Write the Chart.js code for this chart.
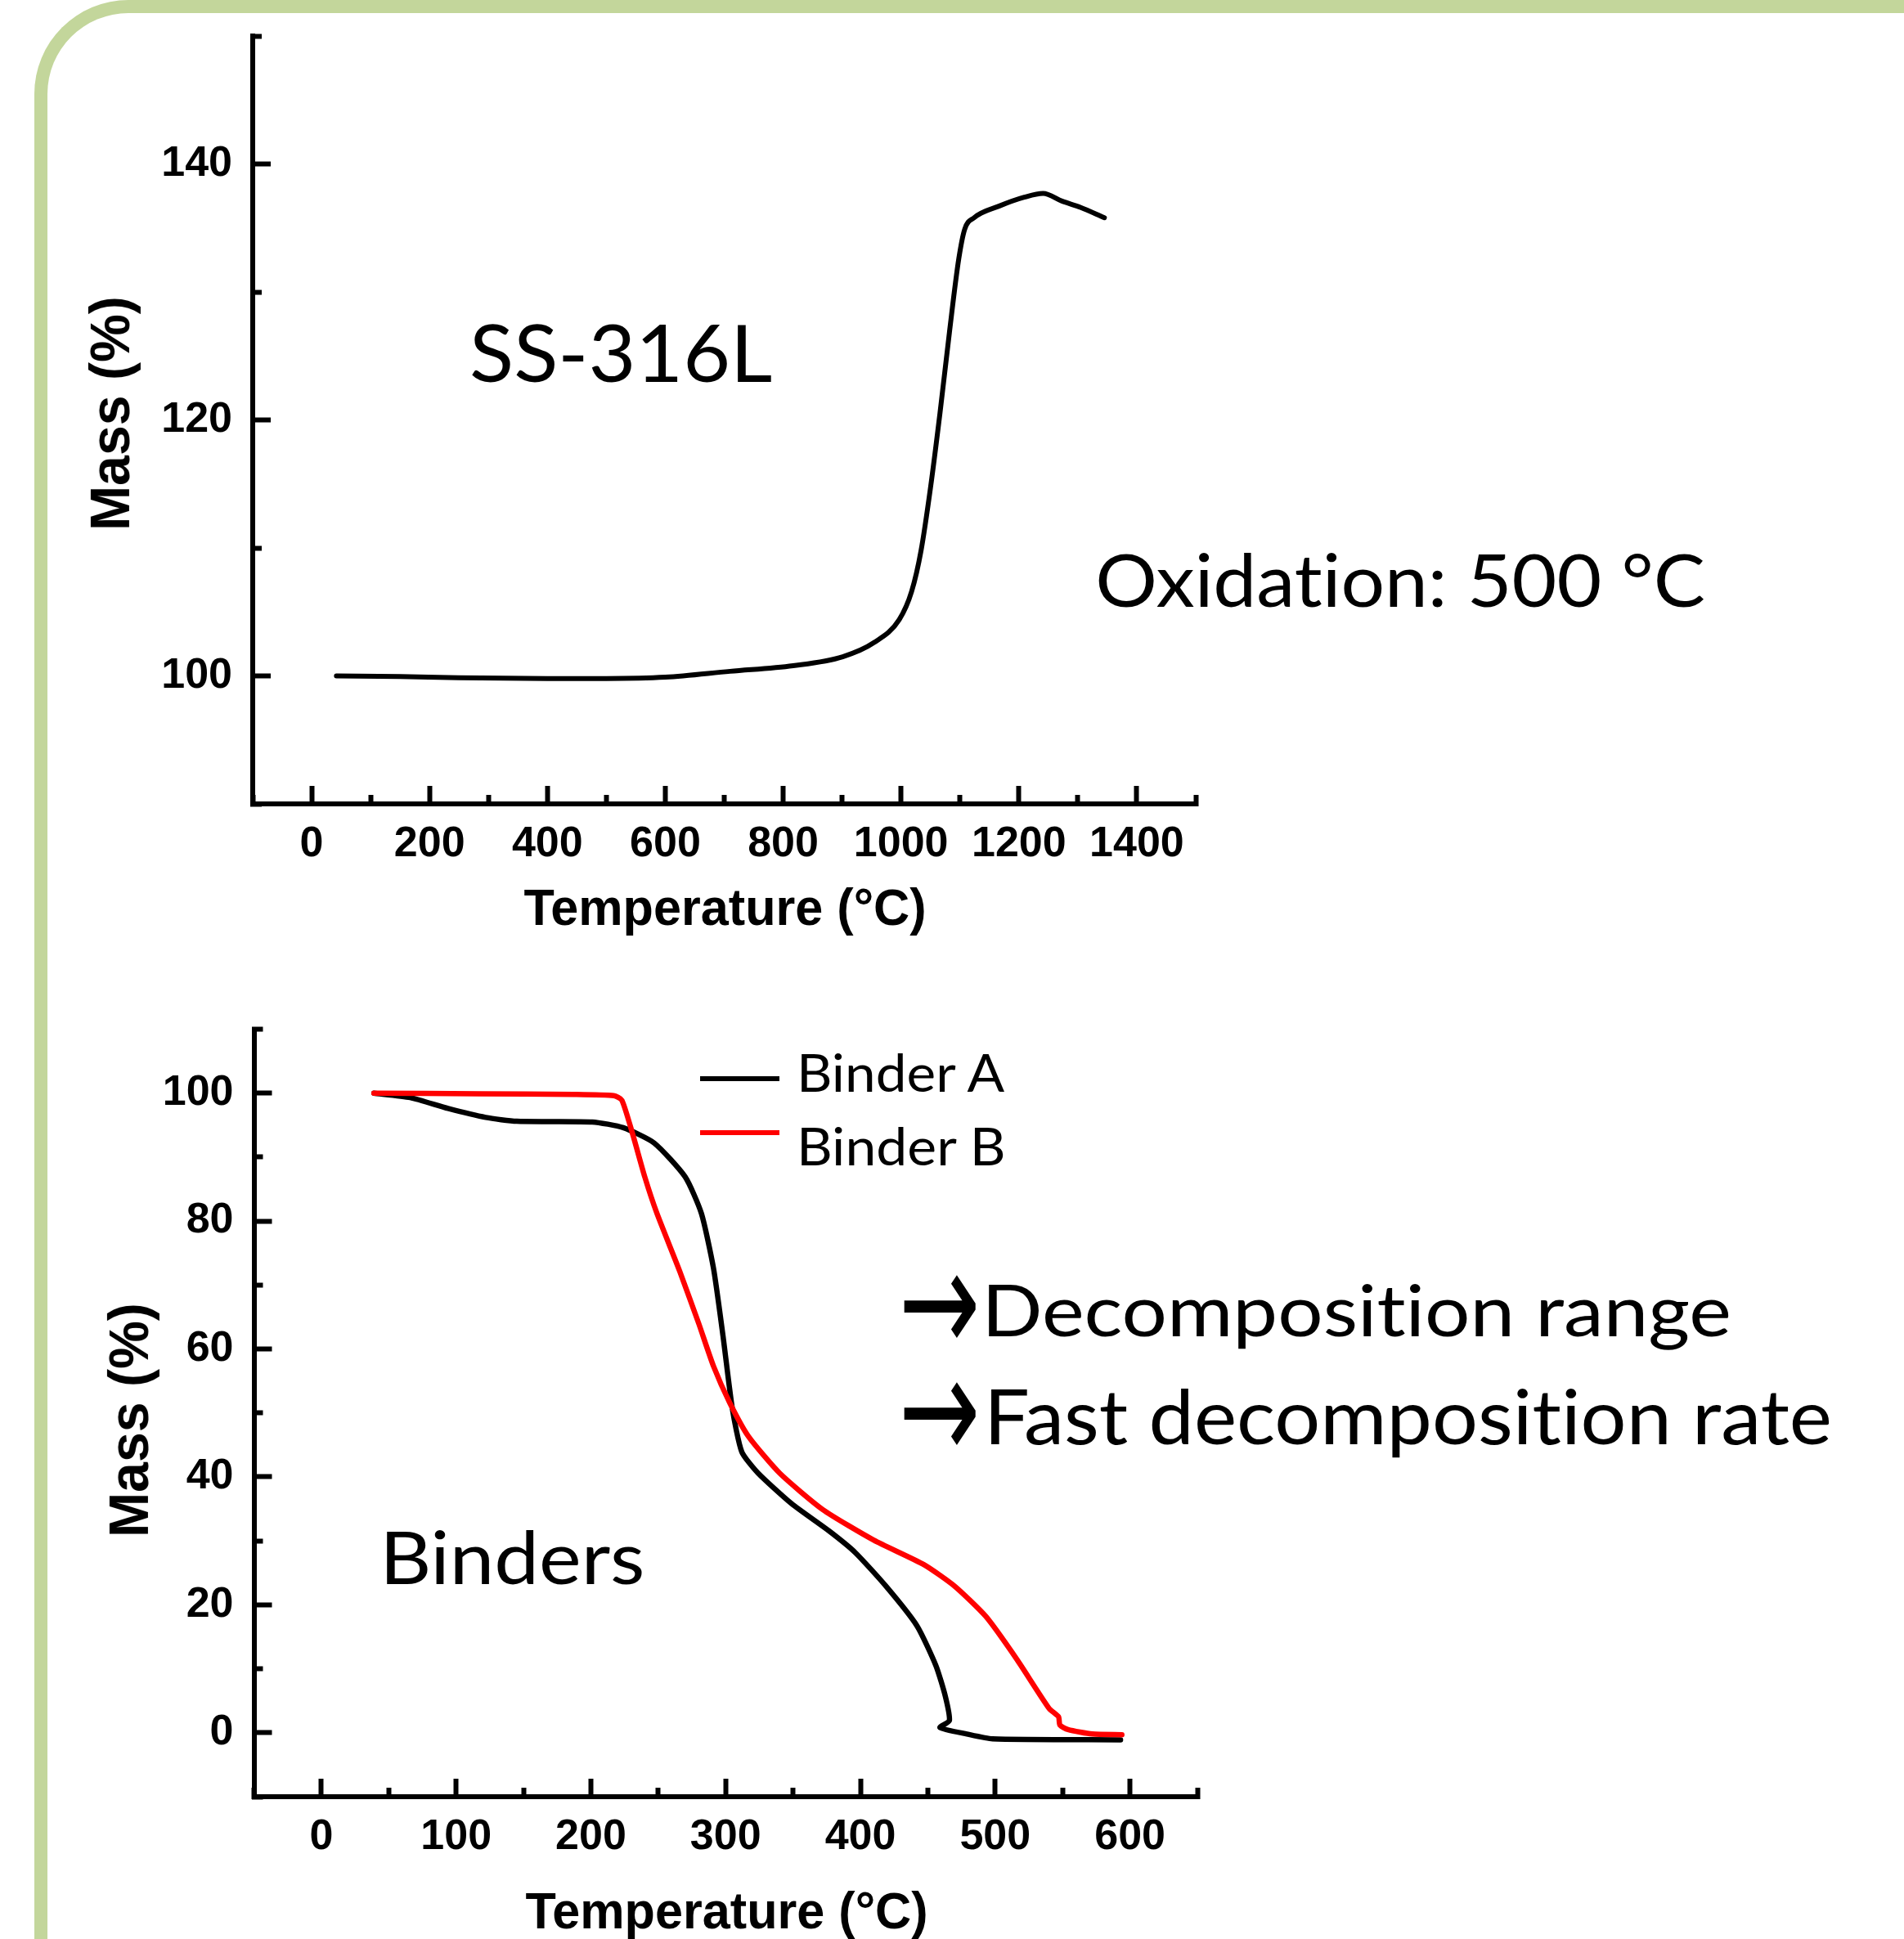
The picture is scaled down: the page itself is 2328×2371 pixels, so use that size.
<!DOCTYPE html>
<html>
<head>
<meta charset="utf-8">
<title>TGA – SS-316L and binders</title>
<script src="https://cdn.jsdelivr.net/npm/chart.js@4.4.1/dist/chart.umd.min.js"></script>
<style>
  html, body { margin: 0; padding: 0; background: #fff; }
  body { position: relative; width: 2328px; height: 2371px; overflow: hidden; }
  .frame { position: absolute; left: 42px; top: 0; width: 2400px; height: 2500px;
           border-top: 16px solid #C3D69B; border-left: 16px solid #C3D69B;
           border-top-left-radius: 115px; box-sizing: border-box; }
  .plot  { position: absolute; left: 0; }
  .lbl   { position: absolute; left: 0; top: 0; white-space: nowrap; color: #000;
           transform-origin: 0 0; }
  .probe { display: inline-block; width: 0; height: 0; }
  .key   { position: absolute; height: 6px; }
</style>
</head>
<body>
<div class="frame"></div>
<canvas id="ssChart" class="plot" width="1540" height="1190" style="top:0"></canvas>
<canvas id="binderChart" class="plot" width="1540" height="1171" style="top:1200px"></canvas>
<div class="key" style="left:856px;top:1316px;width:97px;background:#000"></div>
<div class="key" style="left:856px;top:1382px;width:97px;background:#FF0000"></div>

<script>
/* ---------- SS-316L oxidation curve (temperature °C / mass %) ---------- */
const ssTemp = [42, 150, 250, 400, 500, 600, 710, 817, 901, 954, 997, 1018, 1034, 1050,
                1066, 1082, 1098, 1108, 1124, 1166, 1209, 1241, 1273, 1305, 1345];
const ssMass = [100, 99.95, 99.85, 99.8, 99.8, 99.9, 100.36, 100.8, 101.5, 102.6, 104.4,
                106.6, 109.8, 114.7, 120.5, 126.8, 132.6, 134.9, 135.8, 136.7, 137.4,
                137.7, 137.1, 136.6, 135.8];

/* ---------- binder decomposition curves ---------- */
const binderATemp = [39, 66, 94, 122, 145, 201, 224, 247, 270, 282, 291, 298, 305, 312,
                     324, 349, 377, 396, 419, 442, 456, 463, 466, 459, 479, 498, 593];
const binderAMass = [100, 99.3, 97.6, 96.2, 95.6, 95.5, 94.6, 92.2, 86.9, 81.2, 72.6,
                     62.1, 50.6, 43.9, 40.6, 35.8, 31.5, 28.2, 22.9, 16.7, 10.5, 5.7,
                     1.9, 0.8, -0.2, -0.95, -1.1];
const binderBTemp = [39, 117, 187, 217, 223, 231, 240, 249, 266, 280, 291, 303, 317, 340,
                     372, 410, 447, 470, 493, 516, 540, 547, 548, 554, 572, 594];
const binderBMass = [100, 99.9, 99.8, 99.6, 98.9, 93.6, 86.9, 81.2, 72.1, 64, 57.3, 51.6,
                     46.3, 40.6, 34.9, 30.1, 26.3, 22.9, 18.2, 11.5, 3.8, 2.5, 1.2, 0.5,
                     -0.2, -0.3];

/* ---------- tick values (major = labelled) ---------- */
const ssXMajor = [0, 200, 400, 600, 800, 1000, 1200, 1400];
const ssXMinor = [-100, 100, 300, 500, 700, 900, 1100, 1300, 1500];
const ssYMajor = [100, 120, 140];
const ssYMinor = [90, 110, 130, 150];
const bdXMajor = [0, 100, 200, 300, 400, 500, 600];
const bdXMinor = [-50, 50, 150, 250, 350, 450, 550, 650];
const bdYMajor = [0, 20, 40, 60, 80, 100];
const bdYMinor = [-10, 10, 30, 50, 70, 90, 110];

/* ---------- shared axis look ---------- */
const TICK_FONT = { family: "'Liberation Sans', Arial, sans-serif", size: 52, weight: 'bold' };

const axis = (pos, min, max, major, minor, size) => {
  const isMinor = c => !major.includes(c.tick ? c.tick.value : NaN);
  return {
    type: 'linear', position: pos, min, max,
    afterBuildTicks: s => {
      s.ticks = [...major, ...minor].sort((a, b) => a - b).map(value => ({ value }));
    },
    afterFit: s => {
      if (pos === 'left') s.width = size; else s.height = size;
      // keep the plot box exactly where the layout padding puts it
      s.paddingTop = s.paddingBottom = s.paddingLeft = s.paddingRight = 0;
    },
    border: { display: true, color: '#000', width: 6 },
    grid: {
      drawOnChartArea: false, drawTicks: true,
      tickLength: -22, tickWidth: 6, tickColor: '#000',
      // inward ticks; minor ones cut short with a dash pattern
      tickBorderDash: c => isMinor(c) ? (pos === 'left' ? [14, 11] : [14, 100]) : [],
      tickBorderDashOffset: c => (isMinor(c) && pos === 'left') ? 14 : 0
    },
    ticks: {
      autoSkip: false, maxRotation: 0, minRotation: 0, color: '#000', font: TICK_FONT,
      padding: pos === 'left' ? 47 : 40,
      callback: v => major.includes(v) ? String(v) : ''
    }
  };
};

const xy = (xs, ys) => xs.map((x, i) => ({ x, y: ys[i] }));

const baseOpts = pad => ({
  responsive: false, animation: false, devicePixelRatio: 1,
  layout: { padding: pad },
  plugins: { legend: { display: false }, tooltip: { enabled: false } }
});

/* ---------- top: SS-316L ---------- */
new Chart(document.getElementById('ssChart'), {
  type: 'scatter',
  data: {
    datasets: [{
      data: xy(ssTemp, ssMass), showLine: true, borderColor: '#000', borderWidth: 6,
      pointRadius: 0, cubicInterpolationMode: 'monotone',
      borderJoinStyle: 'round', borderCapStyle: 'round'
    }]
  },
  options: {
    ...baseOpts({ left: 0, top: 44, right: 78, bottom: 0 }),
    scales: {
      x: axis('bottom', -100, 1500, ssXMajor, ssXMinor, 207),
      y: axis('left', 90, 150, ssYMajor, ssYMinor, 309)
    }
  }
});

/* ---------- bottom: binders ---------- */
new Chart(document.getElementById('binderChart'), {
  type: 'scatter',
  data: {
    datasets: [
      { label: 'Binder B', data: xy(binderBTemp, binderBMass), order: 0,
        showLine: true, borderColor: '#FF0000', borderWidth: 6.5, pointRadius: 0,
        tension: 0.2, borderJoinStyle: 'round', borderCapStyle: 'round' },
      { label: 'Binder A', data: xy(binderATemp, binderAMass), order: 1,
        showLine: true, borderColor: '#000', borderWidth: 6.5, pointRadius: 0,
        tension: 0.2, borderJoinStyle: 'round', borderCapStyle: 'round' }
    ]
  },
  options: {
    ...baseOpts({ left: 0, top: 58.5, right: 76, bottom: 0 }),
    scales: {
      x: axis('bottom', -50, 650, bdXMajor, bdXMinor, 174),
      y: axis('left', -10, 110, bdYMajor, bdYMinor, 310.5)
    }
  }
});

/* ---------- text: fitted onto the ink boxes of the original ---------- */
const mctx = document.createElement('canvas').getContext('2d');
const BODY = "Lato, 'Open Sans', sans-serif";
const BOLD = "bold 100px 'Liberation Sans', Arial, sans-serif";

function makeLabel (text, font) {
  mctx.font = font;
  const m = mctx.measureText(text);
  const el = document.createElement('div');
  el.className = 'lbl';
  el.style.font = font;
  el.style.fontVariantLigatures = 'none';
  el.textContent = text;
  const probe = document.createElement('span');
  probe.className = 'probe';
  el.appendChild(probe);
  document.body.appendChild(el);
  return { el, m, base: probe.offsetTop, cap: mctx.measureText('H').actualBoundingBoxAscent };
}

// left/right = ink edges, top = cap top, base = baseline
function place (text, font, { left, right, top, base }) {
  const { el, m, base: b0, cap } = makeLabel(text, font);
  const x1 = -m.actualBoundingBoxLeft, x2 = m.actualBoundingBoxRight;
  const sx = (right - left) / (x2 - x1), sy = (base - top) / cap;
  el.style.transform = `translate(${left - sx * x1}px, ${base - sy * b0}px) scale(${sx}, ${sy})`;
}

// arrow glyph fitted to its ink box
function placeGlyph (text, font, { left, right, top, bottom }) {
  const { el, m, base: b0 } = makeLabel(text, font);
  const x1 = -m.actualBoundingBoxLeft, x2 = m.actualBoundingBoxRight;
  const y1 = b0 - m.actualBoundingBoxAscent, y2 = b0 + m.actualBoundingBoxDescent;
  const sx = (right - left) / (x2 - x1), sy = (bottom - top) / (y2 - y1);
  el.style.transform = `translate(${left - sx * x1}px, ${top - sy * y1}px) scale(${sx}, ${sy})`;
}

// rotated -90° title: capX/baseX across, bottomY/topY along
function placeVertical (text, font, { capX, baseX, bottomY, topY }) {
  const { el, m, base: b0, cap } = makeLabel(text, font);
  const x1 = -m.actualBoundingBoxLeft, x2 = m.actualBoundingBoxRight;
  const sy = (baseX - capX) / cap, sx = (bottomY - topY) / (x2 - x1);
  const tx = baseX - sy * b0, ty = bottomY + sx * x1;
  el.style.transform = `translate(${tx}px, ${ty}px) rotate(-90deg) scale(${sx}, ${sy})`;
}

const bodyFont = `100px ${BODY}`;
place('SS-316L',            bodyFont, { left: 577,  right: 943,  top: 396,  base: 467 });
place('Oxidation: 500 °C',  bodyFont, { left: 1343, right: 2085, top: 677,  base: 742 });
place('Binders',            bodyFont, { left: 473,  right: 785,  top: 1872, base: 1937 });
place('Binder A',           bodyFont, { left: 980,  right: 1232, top: 1289, base: 1335 });
place('Binder B',           bodyFont, { left: 980,  right: 1228, top: 1378, base: 1425 });
place('Decomposition range',     bodyFont, { left: 1209, right: 2115, top: 1570, base: 1634 });
place('Fast decomposition rate', bodyFont, { left: 1212, right: 2238, top: 1698, base: 1766 });

const arrowFont = "100px 'DejaVu Sans', sans-serif";
placeGlyph('→', arrowFont, { left: 1105, right: 1193, top: 1559, bottom: 1638 });
placeGlyph('→', arrowFont, { left: 1105, right: 1193, top: 1690, bottom: 1769 });

place('Temperature (°C)', BOLD, { left: 641, right: 1130, top: 1087, base: 1131 });
place('Temperature (°C)', BOLD, { left: 643, right: 1132, top: 2314, base: 2358 });
placeVertical('Mass (%)', BOLD, { capX: 110, baseX: 158, bottomY: 645,  topY: 365 });
placeVertical('Mass (%)', BOLD, { capX: 133, baseX: 181, bottomY: 1876, topY: 1596 });
</script>
</body>
</html>
